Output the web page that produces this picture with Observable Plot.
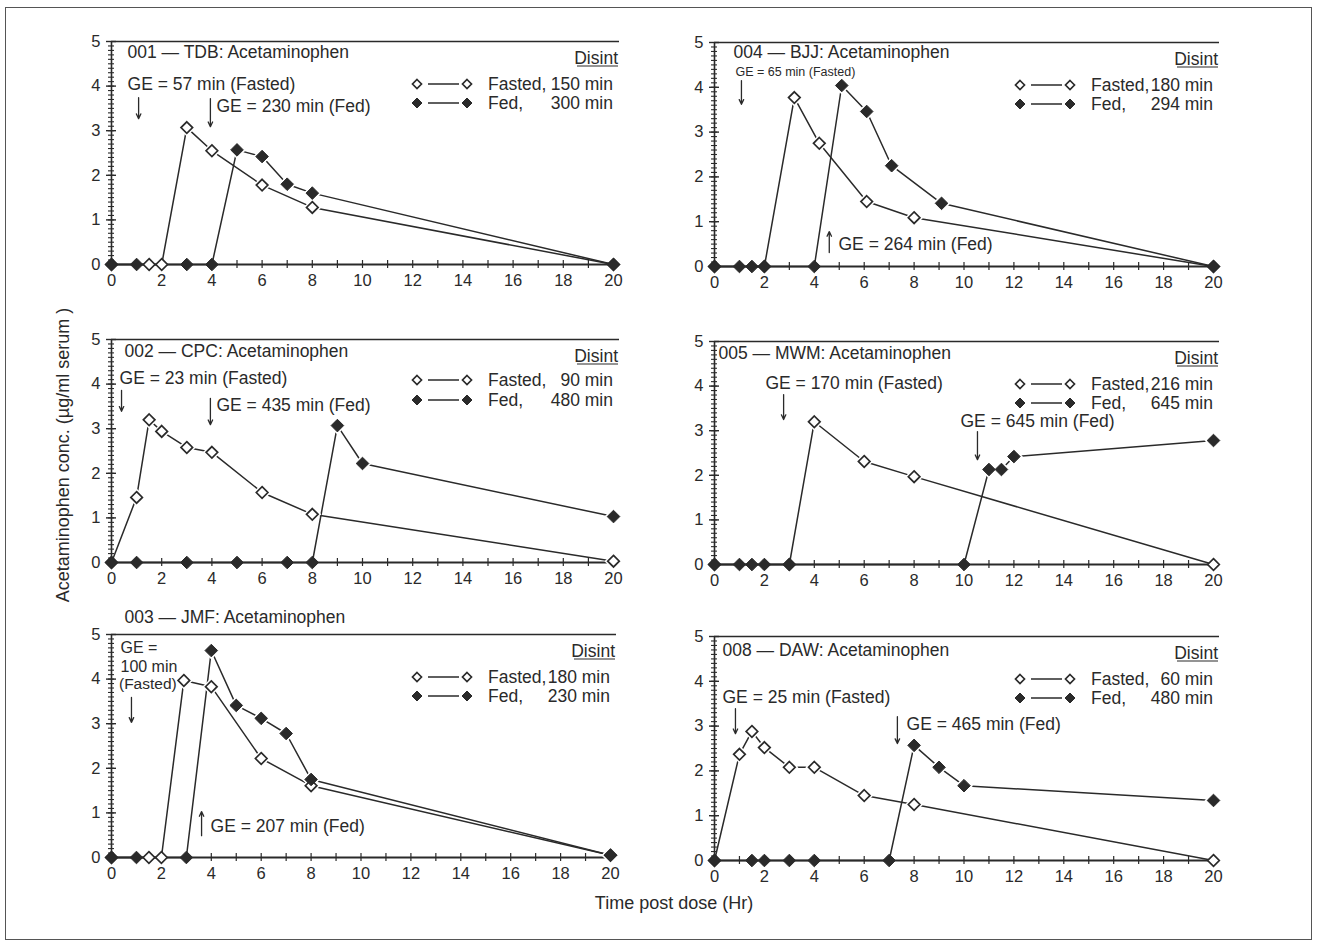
<!DOCTYPE html>
<html><head><meta charset="utf-8">
<script src="https://cdn.jsdelivr.net/npm/d3@7"></script>
<script src="https://cdn.jsdelivr.net/npm/@observablehq/plot@0.6"></script>
<style>
body{margin:0;background:#fff;font-family:"Liberation Sans",Arial,sans-serif;color:#2a2a2a;}
#page{position:relative;width:1319px;height:945px;overflow:hidden;background:#fff;}
#border{position:absolute;left:5px;top:7px;width:1307px;height:933px;border:1px solid #555;box-sizing:border-box;}
.panel{position:absolute;}
#ylab{position:absolute;left:63px;top:455px;transform:translate(-50%,-50%) rotate(-90deg);white-space:nowrap;font-size:18px;}
#xlab{position:absolute;left:674px;top:903px;transform:translate(-50%,-50%);white-space:nowrap;font-size:18px;}
</style></head><body>
<div id="page"><div id="border"></div>
<div id="ylab">Acetaminophen conc. (µg/ml serum )</div>
<div id="xlab">Time post dose (Hr)</div>
</div>
<script>
// ---------- axis tick labels ----------
const X_TICKS = [0,2,4,6,8,10,12,14,16,18,20];
const Y_TICKS = [0,1,2,3,4,5];

// ---------- data (time in hr, concentration in µg/ml) ----------
// 001 — TDB
const tdbFastedTime = [0,1.5,2,3,4,6,8,20];
const tdbFastedConc = [0,0,0,3.07,2.55,1.78,1.28,0];
const tdbFedTime    = [0,1,3,4,5,6,7,8,20];
const tdbFedConc    = [0,0,0,0,2.57,2.42,1.8,1.6,0];
// 004 — BJJ
const bjjFastedTime = [0,2,3.2,4.2,6.1,8,20];
const bjjFastedConc = [0,0,3.77,2.75,1.45,1.09,0];
const bjjFedTime    = [0,1,1.5,2,4,5.1,6.1,7.1,9.1,20];
const bjjFedConc    = [0,0,0,0,0,4.04,3.46,2.25,1.41,0];
// 002 — CPC
const cpcFastedTime = [0,1,1.5,2,3,4,6,8,20];
const cpcFastedConc = [0,1.46,3.2,2.94,2.58,2.47,1.57,1.08,0.03];
const cpcFedTime    = [0,1,3,5,7,8,9,10,20];
const cpcFedConc    = [0,0,0,0,0,0,3.07,2.22,1.03];
// 005 — MWM
const mwmFastedTime = [0,3,4,6,8,20];
const mwmFastedConc = [0,0,3.2,2.31,1.97,0];
const mwmFedTime    = [0,1,1.5,2,3,10,11,11.5,12,20];
const mwmFedConc    = [0,0,0,0,0,0,2.13,2.13,2.42,2.78];
// 003 — JMF
const jmfFastedTime = [0,1.5,2,2.9,4,6,8,20];
const jmfFastedConc = [0,0,0,3.97,3.83,2.22,1.61,0.05];
const jmfFedTime    = [0,1,3,4,5,6,7,8,20];
const jmfFedConc    = [0,0,0,4.64,3.41,3.12,2.78,1.75,0.05];
// 008 — DAW
const dawFastedTime = [0,1,1.5,2,3,4,6,8,20];
const dawFastedConc = [0,2.37,2.88,2.52,2.08,2.08,1.45,1.25,0];
const dawFedTime    = [0,1.5,2,3,4,7,8,9,10,20];
const dawFedConc    = [0,0,0,0,0,0,2.57,2.08,1.67,1.34];

// ---------- text ----------
const titles = ["001 — TDB: Acetaminophen","004 — BJJ: Acetaminophen","002 — CPC: Acetaminophen",
                "005 — MWM: Acetaminophen","003 — JMF: Acetaminophen","008 — DAW: Acetaminophen"];
const fastedLegend = [["Fasted,","150 min"],["Fasted,","180 min"],["Fasted,","90 min"],["Fasted,","216 min"],["Fasted,","180 min"],["Fasted,","60 min"]];
const fedLegend    = [["Fed,","300 min"],["Fed,","294 min"],["Fed,","480 min"],["Fed,","645 min"],["Fed,","230 min"],["Fed,","480 min"]];

const series = [
  [tdbFastedTime,tdbFastedConc,tdbFedTime,tdbFedConc],
  [bjjFastedTime,bjjFastedConc,bjjFedTime,bjjFedConc],
  [cpcFastedTime,cpcFastedConc,cpcFedTime,cpcFedConc],
  [mwmFastedTime,mwmFastedConc,mwmFedTime,mwmFedConc],
  [jmfFastedTime,jmfFastedConc,jmfFedTime,jmfFedConc],
  [dawFastedTime,dawFastedConc,dawFedTime,dawFedConc]
];

// ---------- annotation placement (data units) ----------
const annotations = [
  {title:[0.64,4.75], notes:[{t:"GE = 57 min (Fasted)",x:0.64,y:4.04},{t:"GE = 230 min (Fed)",x:4.18,y:3.54}],
   arrows:[{x:1.08,y1:3.74,y2:3.27},{x:3.94,y1:3.72,y2:3.09}]},
  {title:[0.76,4.77], notes:[{t:"GE = 65 min (Fasted)",x:0.84,y:4.34,size:12.5},{t:"GE = 264 min (Fed)",x:4.97,y:0.49}],
   arrows:[{x:1.08,y1:4.15,y2:3.62},{x:4.6,y1:0.31,y2:0.78}]},
  {title:[0.52,4.73], notes:[{t:"GE = 23 min (Fasted)",x:0.32,y:4.13},{t:"GE = 435 min (Fed)",x:4.18,y:3.52}],
   arrows:[{x:0.4,y1:3.86,y2:3.39},{x:3.94,y1:3.68,y2:3.09}]},
  {title:[0.16,4.73], notes:[{t:"GE = 170 min (Fasted)",x:2.04,y:4.06},{t:"GE = 645 min (Fed)",x:9.86,y:3.21}],
   arrows:[{x:2.77,y1:3.81,y2:3.25},{x:10.54,y1:2.98,y2:2.35}]},
  {title:[0.52,5.38], notes:[{t:"GE =",x:0.36,y:4.69,size:16},{t:"100 min",x:0.36,y:4.28,size:16},{t:"(Fasted)",x:0.3,y:3.88,size:15.5},{t:"GE = 207 min (Fed)",x:3.97,y:0.7}],
   arrows:[{x:0.8,y1:3.59,y2:3.03},{x:3.61,y1:0.49,y2:1.03}]},
  {title:[0.32,4.69], notes:[{t:"GE = 25 min (Fasted)",x:0.32,y:3.64},{t:"GE = 465 min (Fed)",x:7.7,y:3.04}],
   arrows:[{x:0.84,y1:3.39,y2:2.83},{x:7.33,y1:3.21,y2:2.61}]}
];

// ---------- layout (pixel frame of each panel) ----------
const frames = [
  {left:111, top:41,  w:502, h:223},
  {left:714, top:42,  w:499, h:224},
  {left:111, top:339, w:502, h:223},
  {left:714, top:341, w:499, h:223},
  {left:111, top:634, w:499, h:223},
  {left:714, top:636, w:499, h:224}
];

const INK = "#2a2a2a";
const FONT = "'Liberation Sans', Arial, sans-serif";
const TXT = 17.5;
const squareDiamond = {draw(ctx, size){const r=Math.sqrt(size/Math.PI); ctx.moveTo(0,-r); ctx.lineTo(r,0); ctx.lineTo(0,r); ctx.lineTo(-r,0); ctx.closePath();}};

const page = document.getElementById("page");
const mL=40, mR=24, mT=34, mB=34;

frames.forEach((F, i) => {
  const [ft, fc, dt, dc] = series[i];
  const fasted = ft.map((t,k)=>({t, c:fc[k]}));
  const fed = dt.map((t,k)=>({t, c:dc[k]}));
  const A = annotations[i];
  const tx = 20/F.w, ty = 5/F.h; // one pixel in data units
  const yMinor = d3.range(0, 50).map(k => k/10);
  const xMinor = d3.range(0, 21);
  const halo = fasted.concat(fed).filter(d => d.c > 0);
  const plot = Plot.plot({
    width: mL+F.w+mR, height: mT+F.h+mB,
    marginLeft:mL, marginRight:mR, marginTop:mT, marginBottom:mB,
    x:{domain:[0,20]}, y:{domain:[0,5]},
    style:{fontFamily:FONT, fontSize:"16.5px", color:INK, background:"transparent", overflow:"visible"},
    marks:[
      Plot.ruleY([5], {stroke:INK, strokeWidth:1.6, x1:()=>0, x2:()=>20+6*tx}),
      Plot.ruleX([0], {y1:()=>0, y2:()=>5, stroke:INK, strokeWidth:1.6}),
      Plot.ruleY(yMinor, {y:d=>d, x1:()=>-3*tx, x2:()=>3*tx, stroke:INK, strokeWidth:1.1}),
      Plot.ruleY(Y_TICKS, {y:d=>d, x1:()=>-5*tx, x2:()=>5*tx, stroke:INK, strokeWidth:1.4}),
      Plot.ruleY([0], {x1:()=>0, x2:()=>20, stroke:INK, strokeWidth:2}),
      Plot.ruleX(xMinor, {x:d=>d, y1:()=>-4*ty, y2:()=>4*ty, stroke:INK, strokeWidth:1.2}),
      Plot.axisY({ticks:Y_TICKS, tickSize:0, tickPadding:11, tickFormat:d=>String(d), fontSize:16.5}),
      Plot.axisX({ticks:X_TICKS, tickSize:0, tickPadding:10, tickFormat:d=>String(d), fontSize:16.5}),
      Plot.line(fasted, {x:"t", y:"c", stroke:INK, strokeWidth:1.5}),
      Plot.line(fed, {x:"t", y:"c", stroke:INK, strokeWidth:1.5}),
      Plot.dot(halo, {x:"t", y:"c", symbol:squareDiamond, r:9, fill:"white", stroke:"none"}),
      Plot.dot(fasted, {x:"t", y:"c", symbol:squareDiamond, r:5.8, fill:"white", stroke:INK, strokeWidth:1.7}),
      Plot.dot(fed, {x:"t", y:"c", symbol:squareDiamond, r:6.3, fill:INK, stroke:INK, strokeWidth:1}),
      Plot.text([titles[i]], {x:()=>A.title[0], y:()=>A.title[1], text:d=>d, textAnchor:"start", fontSize:TXT, fill:INK}),
      Plot.text(A.notes, {x:"x", y:"y", text:"t", textAnchor:"start", fontSize:d=>d.size||TXT, fill:INK}),
      Plot.arrow(A.arrows, {x1:"x", x2:"x", y1:"y1", y2:"y2", stroke:INK, strokeWidth:1.3, headLength:6, headAngle:50})
    ]
  });
  // legend (pixel layout inside the frame)
  const svg = d3.select(plot);
  const g = svg.append("g").attr("transform", `translate(${mL},${mT})`).attr("fill", INK)
    .attr("text-anchor","start").style("font-size", TXT+"px");
  const dx0 = 306, dx1 = 356, tx0 = 377;
  g.append("text").attr("x", F.w+5).attr("y", 17).attr("dy","0.35em").attr("text-anchor","end").text("Disint");
  g.append("line").attr("x1", F.w-36).attr("x2", F.w+5).attr("y1", 25).attr("y2", 25).attr("stroke", INK).attr("stroke-width",1.2);
  const rows = [{y:i===2?41:43, lab:fastedLegend[i], open:true},{y:i===2?61:62, lab:fedLegend[i], open:false}];
  const dpath = r => `M0,${-r}L${r},0L0,${r}L${-r},0Z`;
  rows.forEach(row => {
    g.append("line").attr("x1", dx0+11).attr("x2", dx1-8).attr("y1", row.y).attr("y2", row.y).attr("stroke", INK).attr("stroke-width",1.5);
    [dx0, dx1].forEach(x => g.append("path").attr("d", dpath(row.open?4.5:5)).attr("transform",`translate(${x},${row.y})`)
      .attr("fill", row.open?"white":INK).attr("stroke", INK).attr("stroke-width", row.open?1.7:1));
    g.append("text").attr("x", tx0).attr("y", row.y).attr("dy","0.35em").attr("text-anchor","start").text(row.lab[0]);
    g.append("text").attr("x", F.w).attr("y", row.y).attr("dy","0.35em").attr("text-anchor","end").text(row.lab[1]);
  });
  const div = document.createElement("div");
  div.className = "panel";
  div.style.left = (F.left - mL) + "px";
  div.style.top = (F.top - mT) + "px";
  div.appendChild(plot);
  page.appendChild(div);
});
</script>
</body></html>
